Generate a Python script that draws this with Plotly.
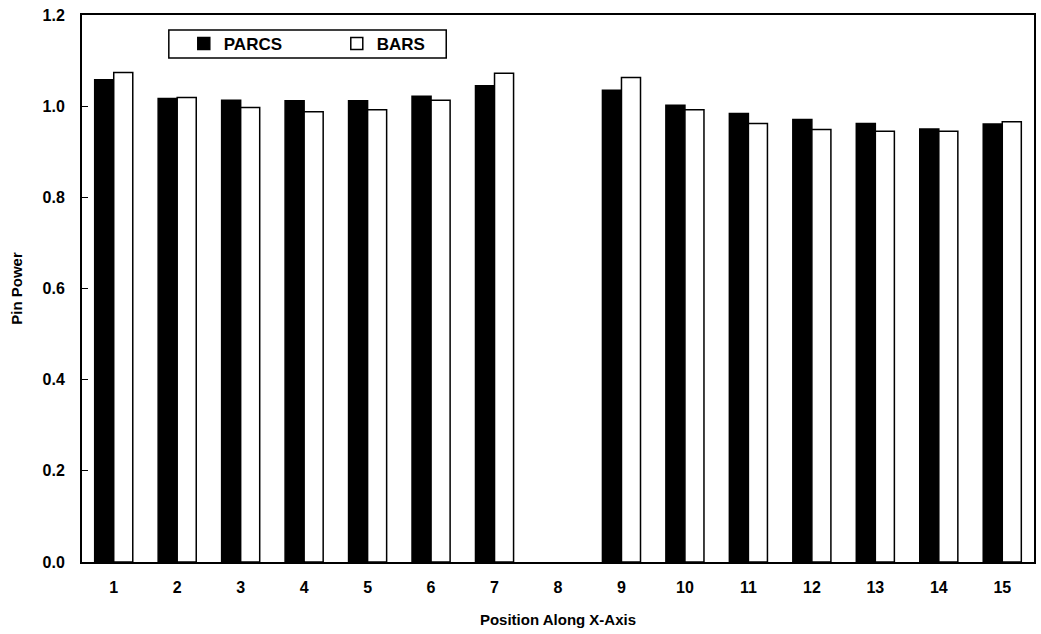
import plotly.graph_objects as go

positions = [str(i) for i in range(1, 16)]
parcs = [1.058, 1.017, 1.013, 1.012, 1.012, 1.022, 1.045, None, 1.035, 1.002, 0.984, 0.971, 0.962, 0.950, 0.961]
bars = [1.074, 1.019, 0.997, 0.988, 0.992, 1.013, 1.072, None, 1.063, 0.992, 0.962, 0.949, 0.945, 0.945, 0.966]
y_ticks = [0.0, 0.2, 0.4, 0.6, 0.8, 1.0, 1.2]

FONT = "Liberation Sans, Arial, sans-serif"

fig = go.Figure()
fig.add_trace(go.Bar(
    x=positions, y=parcs, name="PARCS",
    marker=dict(color="black", line=dict(color="black", width=1.5)),
))
fig.add_trace(go.Bar(
    x=positions, y=bars, name="BARS",
    marker=dict(color="white", line=dict(color="black", width=1.5)),
))

# legend frame (px -> paper): box x 169..447, y 30..58
L, R, T, B = 82, 1036, 15, 562
def px_x(v):
    return (v - L) / (R - L)
def px_y(v):
    return (B - v) / (B - T)

fig.add_shape(type="rect", xref="paper", yref="paper",
              x0=px_x(169), x1=px_x(447), y0=px_y(58), y1=px_y(30),
              line=dict(color="black", width=1.5), fillcolor="white", layer="above")

fig.update_layout(
    width=1041, height=634,
    margin=dict(l=L, r=1041 - R, t=T, b=634 - B),
    paper_bgcolor="white", plot_bgcolor="white",
    barmode="group", bargap=0.4, bargroupgap=0.0,
    font=dict(family=FONT, size=15, color="black"),
    legend=dict(
        orientation="h", x=px_x(184), y=px_y(44), xanchor="left", yanchor="middle",
        bgcolor="rgba(0,0,0,0)", borderwidth=0,
        font=dict(family=FONT, size=17, color="black", weight="bold"),
        entrywidth=108, entrywidthmode="pixels",
    ),
    showlegend=True,
)

fig.update_xaxes(
    type="category", categoryorder="array", categoryarray=positions,
    showline=True, linecolor="black", linewidth=2, mirror=True,
    ticks="", showgrid=False,
    tickfont=dict(family=FONT, size=16, weight="bold"),
    ticklabelstandoff=10,
    title=dict(text="<b>Position Along X-Axis</b>", font=dict(family=FONT, size=15), standoff=19),
)
fig.update_yaxes(
    range=[0, 1.2], tickvals=y_ticks, ticktext=[f"{v:.1f}" for v in y_ticks],
    showline=True, linecolor="black", linewidth=2, mirror=True,
    ticks="inside", ticklen=6, tickcolor="black", tickwidth=1,
    showgrid=False, zeroline=False,
    tickfont=dict(family=FONT, size=16, weight="bold"),
    ticklabelstandoff=12,
    title=dict(text="<b>Pin Power</b>", font=dict(family=FONT, size=15), standoff=16),
)

fig.write_html("out.html")
